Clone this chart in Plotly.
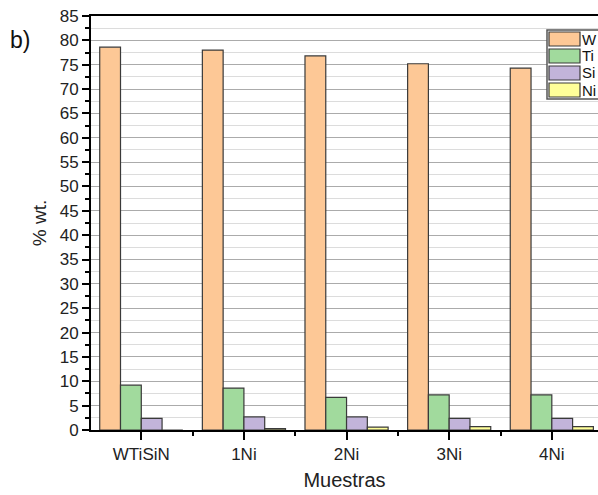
import plotly.graph_objects as go

categories = ["WTiSiN", "1Ni", "2Ni", "3Ni", "4Ni"]
series_names = ["W", "Ti", "Si", "Ni"]
w_vals = [78.6, 78.0, 76.8, 75.2, 74.3]
ti_vals = [9.2, 8.6, 6.7, 7.2, 7.2]
si_vals = [2.4, 2.7, 2.7, 2.4, 2.4]
ni_vals = [0.0, 0.3, 0.6, 0.7, 0.7]
colors = ["#FDC896", "#A1DA9D", "#C2B4DA", "#FFFF99"]

x_pos = list(range(len(categories)))
fig = go.Figure()
for name, vals, col in zip(series_names, [w_vals, ti_vals, si_vals, ni_vals], colors):
    fig.add_trace(go.Bar(x=x_pos, y=vals, name=name,
                         marker=dict(color=col, line=dict(color="#3a3a3a", width=1.2))))

W, H = 598, 495
# plot area in page pixels: x 91..598, y 16..430
L, R, T, B = 91, 598, 16, 430
def px(x):
    return (x - L) / (R - L)
def py(y):
    return (B - y) / (B - T)

shapes = [dict(type="rect", xref="paper", yref="paper",
               x0=px(547), x1=px(602), y0=py(99), y1=py(30),
               line=dict(color="#555", width=1.5), fillcolor="white", layer="above")]
annotations = [dict(text="b)", x=px(8), y=py(40), xref="paper", yref="paper",
                    xanchor="left", yanchor="middle", showarrow=False,
                    font=dict(size=23, color="#111"))]
for i, (name, col) in enumerate(zip(series_names, colors)):
    top = 32 + i * 17
    shapes.append(dict(type="rect", xref="paper", yref="paper",
                       x0=px(549), x1=px(580), y0=py(top + 14), y1=py(top),
                       line=dict(color="#3a3a3a", width=1.2), fillcolor=col, layer="above"))
    annotations.append(dict(text=name, x=px(581), y=py(top + 7), xref="paper", yref="paper",
                            xanchor="left", yanchor="middle", showarrow=False, borderpad=0,
                            font=dict(size=15, color="#111")))

font_family = "Liberation Sans, Arial, sans-serif"
fig.update_layout(
    width=W, height=H,
    margin=dict(l=L, r=W - R, t=T, b=H - B, autoexpand=False),
    plot_bgcolor="white", paper_bgcolor="white",
    barmode="group", bargap=0.19, bargroupgap=0,
    font=dict(family=font_family, color="#222", size=17),
    showlegend=False,
    shapes=shapes, annotations=annotations,
)

fig.update_xaxes(
    range=[-0.49, 4.45], tickvals=x_pos, ticktext=categories,
    showline=True, linecolor="black", linewidth=2, mirror=True,
    ticks="outside", ticklen=8, tickwidth=2, tickcolor="black",
    minor=dict(ticks="outside", ticklen=4, tickwidth=2, tickcolor="black", tick0=0.5, dtick=1),
    showgrid=False, zeroline=False, automargin=False, ticklabeloverflow="allow",
    title=dict(text="Muestras", font=dict(size=20), standoff=10),
    tickfont=dict(size=17),
)
fig.update_yaxes(
    range=[0, 85], dtick=5, tick0=0,
    showline=True, linecolor="black", linewidth=2, mirror=False,
    ticks="outside", ticklen=7, tickwidth=2, tickcolor="black",
    showgrid=True, gridcolor="#ababab", gridwidth=1,
    minor=dict(ticks="outside", ticklen=4, tickwidth=2, tickcolor="black", dtick=2.5,
               showgrid=True, gridcolor="#dcdcdc", gridwidth=1),
    zeroline=False, automargin=False, ticklabeloverflow="allow",
    title=dict(text="% wt.", font=dict(size=19), standoff=8),
    tickfont=dict(size=17),
)

fig.write_html("out.html", config={"displayModeBar": False},
               post_script="document.body.style.margin='0';document.body.style.overflow='hidden';")
